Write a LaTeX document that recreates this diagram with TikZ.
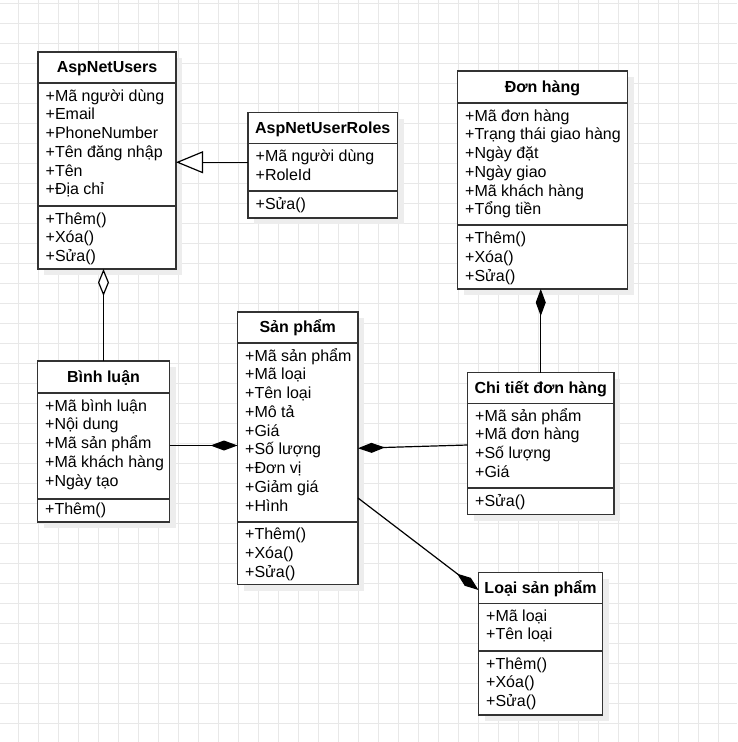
\documentclass[tikz,border=0pt]{standalone}
\usepackage{fontspec}
\setmainfont{Liberation Sans}
\usetikzlibrary{arrows.meta}
\tikzset{
  gridline/.style={draw=black!9, line width=0.8pt},
  shadowfill/.style={fill=black!7},
  classbox/.style={draw=black!80, line width=1.3pt, fill=white, inner sep=0pt, outer sep=0pt},
  sepline/.style={draw=black!80, line width=1.3pt},
  titletext/.style={font=\fontsize{16}{19}\selectfont\bfseries, inner sep=0pt},
  membertext/.style={font=\fontsize{16}{19}\selectfont, inner sep=0pt},
  conn/.style={draw=black, line width=1.2pt},
  opentri/.style={-{Triangle[fill=white, length=27pt, width=22pt]}},
  opendia/.style={-{Diamond[fill=white, length=27pt, width=11pt]}},
  filldia/.style={-{Diamond[length=27pt, width=10pt]}},
}
% #1 name, #2 left, #3 top, #4 right, #5 sep1, #6 sep2, #7 bottom, #8 title
\newcommand\umlclass[8]{%
  \fill[shadowfill] ({#2+6},{#3+6}) rectangle ({#4+6},{#7+6});
  \pgfmathsetmacro\umlw{#4-#2}%
  \pgfmathsetmacro\umlh{#7-#3}%
  \node[classbox, anchor=north west, minimum width=\umlw pt, minimum height=\umlh pt] (#1) at (#2,#3) {};
  \draw[sepline] (#2,#5) -- (#4,#5);
  \draw[sepline] (#2,#6) -- (#4,#6);
  \node[titletext, anchor=base] (#1-title) at ({(#2+#4)/2},{(#3+#5)/2+5}) {#8};
}
% #1 prefix, #2 x, #3 first baseline, #4 list
\newcommand\memberlist[4]{%
  \foreach \t [count=\i] in {#4} {\node[membertext, anchor=base west] (#1-\i) at ({#2},{#3+18.75*(\i-1)}) {\t};}
}
\begin{document}
\begin{tikzpicture}[x=1pt,y=-1pt]
\useasboundingbox (0,0) rectangle (737,742);
\fill[white] (0,0) rectangle (737,742);
\foreach \x in {18,38,...,738} \draw[gridline] (\x,0) -- (\x,742);
\foreach \y in {3,23,...,743} \draw[gridline] (0,\y) -- (737,\y);

% AspNetUsers
\umlclass{users}{38}{52}{176}{83}{206}{269}{AspNetUsers}
\memberlist{users-a}{45.5}{101}{+Mã người dùng,+Email,+PhoneNumber,+Tên đăng nhập,+Tên,+Địa chỉ}
\memberlist{users-m}{45.5}{224}{+Thêm(),+Xóa(),+Sửa()}

% AspNetUserRoles
\umlclass{roles}{248}{112.5}{397.5}{143.5}{191}{218}{AspNetUserRoles}
\memberlist{roles-a}{255.5}{161.5}{+Mã người dùng,+RoleId}
\memberlist{roles-m}{255.5}{209}{+Sửa()}

% Don hang
\umlclass{donhang}{457.5}{71}{627.5}{103}{225}{289}{Đơn hàng}
\memberlist{donhang-a}{465}{121}{+Mã đơn hàng,+Trạng thái giao hàng,+Ngày đặt,+Ngày giao,+Mã khách hàng,+Tổng tiền}
\memberlist{donhang-m}{465}{243.5}{+Thêm(),+Xóa(),+Sửa()}

% Binh luan
\umlclass{binhluan}{37.5}{361}{169.5}{393}{499}{522}{Bình luận}
\memberlist{binhluan-a}{45}{411}{+Mã bình luận,+Nội dung,+Mã sản phẩm,+Mã khách hàng,+Ngày tạo}
\memberlist{binhluan-m}{45}{514.5}{+Thêm()}

% San pham
\umlclass{sanpham}{237.5}{312}{358}{343}{522}{584.5}{Sản phẩm}
\memberlist{sanpham-a}{245}{361}{+Mã sản phẩm,+Mã loại,+Tên loại,+Mô tả,+Giá,+Số lượng,+Đơn vị,+Giảm giá,+Hình}
\memberlist{sanpham-m}{245}{539.5}{+Thêm(),+Xóa(),+Sửa()}

% Chi tiet don hang
\umlclass{chitiet}{467.5}{372.5}{614}{403.5}{488}{514.5}{Chi tiết đơn hàng}
\memberlist{chitiet-a}{475}{421}{+Mã sản phẩm,+Mã đơn hàng,+Số lượng,+Giá}
\memberlist{chitiet-m}{475}{506}{+Sửa()}

% Loai san pham
\umlclass{loai}{478.5}{572.5}{602.5}{603.5}{651}{715}{Loại sản phẩm}
\memberlist{loai-a}{486}{621}{+Mã loại,+Tên loại}
\memberlist{loai-m}{486}{669}{+Thêm(),+Xóa(),+Sửa()}

% connectors
\coordinate (roles-in) at ([yshift=3pt]roles.west);
\draw[conn, opentri] (roles-in) -- (roles-in -| users.east);

\draw[conn, opendia] (binhluan.north) -- (binhluan.north |- users.south);

\coordinate (bl-out) at ([yshift=-4pt]binhluan.east);
\draw[conn, filldia] (bl-out) -- (bl-out -| sanpham.west);

\coordinate (ct-in) at ([yshift=-1.5pt]chitiet.west);
\draw[conn, filldia] (ct-in) -- (sanpham.east);

\draw[conn, filldia] (chitiet.north) -- (chitiet.north |- donhang.south);

\coordinate (sp-out) at ([yshift=-49.75pt]sanpham.east);
\coordinate (loai-in) at ([yshift=53.75pt]loai.west);
\draw[conn, filldia] (sp-out) -- (loai-in);
\end{tikzpicture}
\end{document}
